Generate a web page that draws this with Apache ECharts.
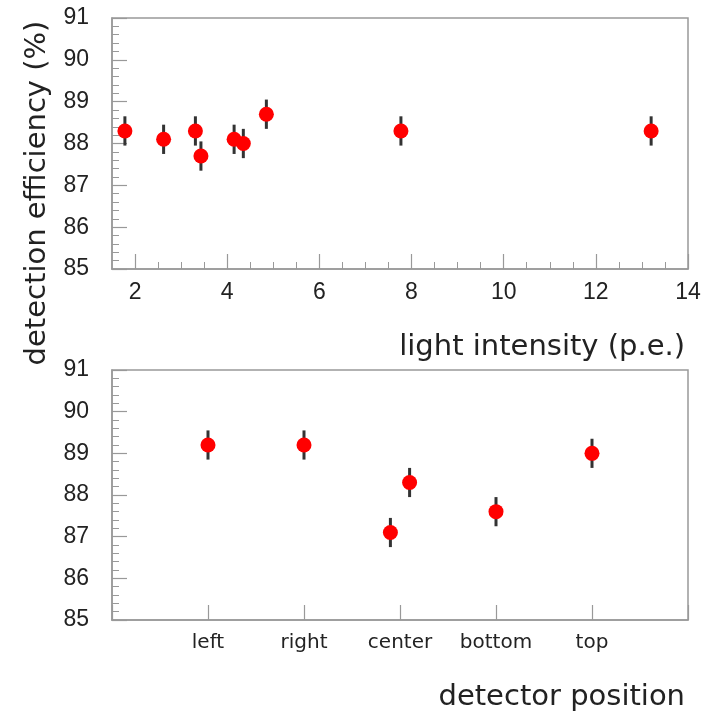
<!DOCTYPE html>
<html>
<head>
<meta charset="utf-8">
<script src="https://cdn.jsdelivr.net/npm/echarts@6/dist/echarts.min.js"></script>
<style>
  html, body { margin: 0; padding: 0; background: #fff; }
  #main { width: 707px; height: 712px; }
</style>
</head>
<body>
<div id="main"></div>
<script>
// top panel: efficiency vs light intensity
var intensity = [1.78, 2.62, 3.31, 3.43, 4.15, 4.35, 4.85, 7.77, 13.2];
var effTop = [88.3, 88.1, 88.3, 87.7, 88.1, 88.0, 88.7, 88.3, 88.3];
var errTop = [0.35, 0.35, 0.35, 0.35, 0.35, 0.35, 0.35, 0.35, 0.35];
var topTicks = [2, 4, 6, 8, 10, 12, 14];

// bottom panel: efficiency vs detector position
var positions = ['left', 'right', 'center', 'bottom', 'top'];
var posX = [1, 2, 2.9, 3.1, 4, 5];
var effBot = [89.2, 89.2, 87.1, 88.3, 87.6, 89.0];
var errBot = [0.35, 0.35, 0.35, 0.35, 0.35, 0.35];

var textColor = '#222';
var frameColor = '#999';
var numFont = 'Liberation Sans';
var txtFont = 'DejaVu Sans';

var minorTop = [];
for (var v = 2.5; v < 14; v += 0.5) {
  if (v % 2 !== 0) minorTop.push(v);
}

function pairs(xs, ys) {
  return xs.map(function (x, i) { return [x, ys[i]]; });
}
function errData(xs, ys, es) {
  return xs.map(function (x, i) { return [x, ys[i] - es[i], ys[i] + es[i]]; });
}
function errRender(params, api) {
  var p1 = api.coord([api.value(0), api.value(1)]);
  var p2 = api.coord([api.value(0), api.value(2)]);
  return {
    type: 'line',
    shape: { x1: p1[0], y1: p1[1], x2: p2[0], y2: p2[1] },
    style: { stroke: '#333', lineWidth: 3 }
  };
}

function yAxisFor(gi) {
  return {
    type: 'value', gridIndex: gi, min: 85, max: 91, interval: 1,
    axisLine: { show: true, lineStyle: { color: frameColor, width: 1.5 } },
    axisTick: { show: true, inside: true, length: 15, lineStyle: { color: frameColor, width: 1.2 } },
    minorTick: { show: true, splitNumber: 5, length: 7, lineStyle: { color: frameColor, width: 1 } },
    axisLabel: { margin: 23, color: textColor, fontSize: 23, fontFamily: numFont },
    splitLine: { show: false }
  };
}

var chart = echarts.init(document.getElementById('main'));
chart.setOption({
  backgroundColor: '#fff',
  animation: false,
  grid: [
    { left: 112, top: 18, width: 576, height: 251, show: true, borderColor: frameColor, borderWidth: 1.5, backgroundColor: 'transparent' },
    { left: 112, top: 370, width: 576, height: 250, show: true, borderColor: frameColor, borderWidth: 1.5, backgroundColor: 'transparent' }
  ],
  xAxis: [
    {
      type: 'value', gridIndex: 0, min: 1.5, max: 14,
      axisLine: { show: true, lineStyle: { color: frameColor, width: 1.5 } },
      axisTick: { show: true, inside: true, length: 15, customValues: topTicks, lineStyle: { color: frameColor, width: 1.2 } },
      axisLabel: { margin: 12, color: textColor, fontSize: 23, fontFamily: numFont, customValues: topTicks },
      splitLine: { show: false }
    },
    {
      type: 'value', gridIndex: 0, min: 1.5, max: 14, position: 'bottom',
      axisLine: { show: false },
      axisTick: { show: true, inside: true, length: 7, customValues: minorTop, lineStyle: { color: frameColor, width: 1 } },
      axisLabel: { show: false },
      splitLine: { show: false }
    },
    {
      type: 'value', gridIndex: 1, min: 0, max: 6, interval: 1,
      axisLine: { show: true, lineStyle: { color: frameColor, width: 1.5 } },
      axisTick: { show: true, inside: true, length: 15, lineStyle: { color: frameColor, width: 1.2 } },
      axisLabel: {
        margin: 13, color: textColor, fontSize: 20, fontFamily: txtFont,
        formatter: function (val) { return positions[val - 1] || ''; }
      },
      splitLine: { show: false }
    }
  ],
  yAxis: [yAxisFor(0), yAxisFor(1)],
  graphic: [
    { type: 'text', x: 685, y: 347, style: { text: 'light intensity (p.e.)', align: 'right', verticalAlign: 'middle', font: '29px "DejaVu Sans"', fill: textColor } },
    { type: 'text', x: 685, y: 697, style: { text: 'detector position', align: 'right', verticalAlign: 'middle', font: '29px "DejaVu Sans"', fill: textColor } },
    { type: 'text', x: 37, y: 193, rotation: Math.PI / 2, style: { text: 'detection efficiency (%)', align: 'center', verticalAlign: 'middle', font: '29px "DejaVu Sans"', fill: textColor } }
  ],
  series: [
    { type: 'custom', xAxisIndex: 0, yAxisIndex: 0, renderItem: errRender, data: errData(intensity, effTop, errTop), z: 2 },
    { type: 'scatter', xAxisIndex: 0, yAxisIndex: 0, symbol: 'circle', symbolSize: 15, itemStyle: { color: '#ff0000', opacity: 1 }, data: pairs(intensity, effTop), z: 3 },
    { type: 'custom', xAxisIndex: 2, yAxisIndex: 1, renderItem: errRender, data: errData(posX, effBot, errBot), z: 2 },
    { type: 'scatter', xAxisIndex: 2, yAxisIndex: 1, symbol: 'circle', symbolSize: 15, itemStyle: { color: '#ff0000', opacity: 1 }, data: pairs(posX, effBot), z: 3 }
  ]
});
</script>
</body>
</html>
